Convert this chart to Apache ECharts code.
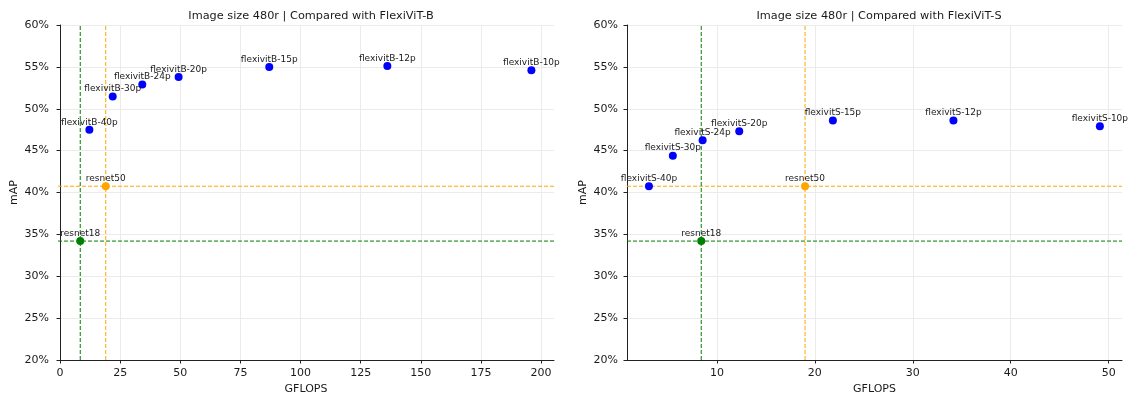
<!DOCTYPE html>
<html>
<head>
<meta charset="utf-8">
<script src="https://cdn.jsdelivr.net/npm/echarts@6/dist/echarts.min.js"></script>
<style>
  html, body { margin: 0; padding: 0; background: #fff; }
  #chart { width: 1129px; height: 394px; }
</style>
</head>
<body>
<div id="chart"></div>
<script>
// FlexiViT-B variants at 480r
const namesB = ['flexivitB-40p', 'flexivitB-30p', 'flexivitB-24p', 'flexivitB-20p', 'flexivitB-15p', 'flexivitB-12p', 'flexivitB-10p'];
const gflopsB = [12.2, 21.9, 34.2, 49.3, 87.0, 136.1, 196.0];
const mapB = [47.5, 51.45, 52.9, 53.8, 55.0, 55.1, 54.6];

// FlexiViT-S variants at 480r
const namesS = ['flexivitS-40p', 'flexivitS-30p', 'flexivitS-24p', 'flexivitS-20p', 'flexivitS-15p', 'flexivitS-12p', 'flexivitS-10p'];
const gflopsS = [3.06, 5.5, 8.54, 12.28, 21.84, 34.15, 49.1];
const mapS = [40.75, 44.4, 46.25, 47.3, 48.6, 48.6, 47.9];

// ResNet baselines
const baseNames = ['resnet50', 'resnet18'];
const baseGflops = [19.0, 8.4];
const baseMap = [40.75, 34.2];
const baseColors = ['#ffa500', '#008000'];

// Axis ticks and ranges
const xTicksB = [0, 25, 50, 75, 100, 125, 150, 175, 200];
const xTicksS = [10, 20, 30, 40, 50];
const xRangeB = [-0.85, 205.4];
const xRangeS = [0.82, 51.36];
const yTicks = [20, 25, 30, 35, 40, 45, 50, 55, 60];

const titles = ['Image size 480r | Compared with FlexiViT-B', 'Image size 480r | Compared with FlexiViT-S'];

const FONT = 'DejaVu Sans';
const TXT = '#1a1a1a';
const yMin = yTicks[0];
const yMax = yTicks[yTicks.length - 1];

const grids = [
  { left: 58, right: 575, top: 25, bottom: 34, outerBoundsMode: 'none', containLabel: false },
  { left: 627, right: 7, top: 25, bottom: 34, outerBoundsMode: 'none', containLabel: false }
];

function xAxisFor(idx, range, ticks) {
  return {
    type: 'value', gridIndex: idx, min: range[0], max: range[1],
    name: 'GFLOPS', nameLocation: 'middle', nameGap: 24,
    nameTextStyle: { fontFamily: FONT, fontSize: 11, color: TXT },
    axisLine: { show: true, onZero: false, lineStyle: { color: '#222', width: 1 } },
    axisTick: { show: true, length: 3.5, inside: false, customValues: ticks, lineStyle: { color: '#222' } },
    axisLabel: { customValues: ticks, margin: 8, fontFamily: FONT, fontSize: 11, color: TXT },
    splitLine: { show: true, lineStyle: { color: '#ebebeb', width: 1 } }
  };
}

function yAxisFor(idx) {
  return {
    type: 'value', gridIndex: idx, min: yMin, max: yMax, interval: 5,
    name: 'mAP', nameLocation: 'middle', nameGap: 38,
    nameTextStyle: { fontFamily: FONT, fontSize: 11, color: TXT },
    axisLine: { show: true, lineStyle: { color: '#222', width: 1 } },
    axisTick: { show: true, length: 3.5, lineStyle: { color: '#222' } },
    axisLabel: { margin: 9, formatter: '{value}%', fontFamily: FONT, fontSize: 11, color: TXT },
    splitLine: { show: true, lineStyle: { color: '#ebebeb', width: 1 } }
  };
}

const pointLabel = {
  show: true, position: 'top', distance: -1,
  fontFamily: FONT, fontSize: 9, color: TXT,
  formatter: p => p.data[2]
};

function refLine(idx, color, pts) {
  return {
    type: 'line', xAxisIndex: idx, yAxisIndex: idx, z: 1, silent: true,
    symbol: 'none', showSymbol: false, animation: false,
    lineStyle: { color: color, type: [4, 2], width: 1 },
    itemStyle: { color: color },
    emphasis: { disabled: true },
    data: pts
  };
}

function panelSeries(idx, names, gx, gy, xr) {
  const out = [];
  // dashed reference lines through each baseline, spanning the whole plot
  baseNames.forEach((n, i) => {
    out.push(refLine(idx, baseColors[i], [[baseGflops[i], yMin], [baseGflops[i], yMax]]));
    out.push(refLine(idx, baseColors[i], [[xr[0], baseMap[i]], [xr[1], baseMap[i]]]));
  });
  // baseline points
  baseNames.forEach((n, i) => {
    out.push({
      type: 'scatter', xAxisIndex: idx, yAxisIndex: idx, z: 3,
      symbolSize: 8, itemStyle: { color: baseColors[i], opacity: 1 },
      label: pointLabel,
      data: [[baseGflops[i], baseMap[i], n]]
    });
  });
  // FlexiViT points
  out.push({
    type: 'scatter', xAxisIndex: idx, yAxisIndex: idx, z: 3,
    symbolSize: 8, itemStyle: { color: '#0000ff', opacity: 1 },
    label: pointLabel,
    data: names.map((n, i) => [gx[i], gy[i], n])
  });
  return out;
}

const chart = echarts.init(document.getElementById('chart'), null, { renderer: 'canvas' });
chart.setOption({
  animation: false,
  backgroundColor: '#ffffff',
  title: [
    { text: titles[0], left: 306, top: 6, textAlign: 'center', textStyle: { fontFamily: FONT, fontSize: 11.3, fontWeight: 'normal', color: TXT } },
    { text: titles[1], left: 874, top: 6, textAlign: 'center', textStyle: { fontFamily: FONT, fontSize: 11.3, fontWeight: 'normal', color: TXT } }
  ],
  grid: grids,
  xAxis: [xAxisFor(0, xRangeB, xTicksB), xAxisFor(1, xRangeS, xTicksS)],
  yAxis: [yAxisFor(0), yAxisFor(1)],
  series: [].concat(panelSeries(0, namesB, gflopsB, mapB, xRangeB), panelSeries(1, namesS, gflopsS, mapS, xRangeS))
});
</script>
</body>
</html>
